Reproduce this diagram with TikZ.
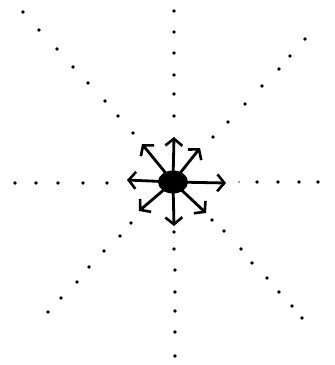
\documentclass[tikz,border=0pt]{standalone}
\usetikzlibrary{arrows.meta,shapes.geometric}
\tikzset{
  dotmark/.style={fill=black},
  ray/.style={line width=2.8pt,-{Straight Barb[length=7pt,width=17pt,line width=2.6pt]}},
  hub/.style={ellipse,fill=black,minimum width=30pt,minimum height=23pt,inner sep=0pt}
}
\begin{document}
\begin{tikzpicture}[x=1pt,y=-1pt]
\useasboundingbox (0,0) rectangle (335,365);
% dotted lines
\foreach \p in {(174,11),(174,32),(174,53),(174,75),(174,94),(174,116),
  (174,232),(174,249),(175,270),(175,292),(175,311),(175,332),(175,356),
  (15,183),(36,183),(58,183),(83,183),(107,183),
  (257,182),(278,182),(299,182),(318,182),
  (23,12),(39,30),(57,49),(73,67),(88,83),(105,101),(118,116),(133,133),
  (305,39),(290,56),(279,69),(262,86),(245,104),(228,122),(213,137),
  (131,223),(120,236),(104,251),(89,267),(77,282),(61,298),(48,312),
  (212,220),(224,231),(241,249),(252,263),(267,278),(279,292),(292,306),(302,318)}
  \fill[dotmark] \p circle (1.9pt);
\fill[black!50] (239,182) circle (1.1pt);
% arrows
\coordinate (o) at (173,182);
\coordinate (tE) at (226,183);
\coordinate (tW) at (127,180);
\coordinate (tN) at (174,137);
\coordinate (tS) at (174,226);
\coordinate (tNW) at (142,144);
\coordinate (tNE) at (200,148);
\coordinate (tSW) at (139,211);
\coordinate (tSE) at (206,213);
\foreach \t in {tE,tW,tN,tS,tNW,tNE,tSW,tSE}
  \draw[ray] (o) -- (\t);
\node[hub] (c) at (o) {};
\end{tikzpicture}
\end{document}
